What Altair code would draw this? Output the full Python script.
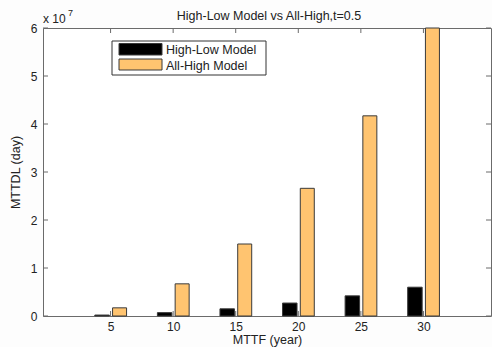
import altair as alt
import pandas as pd

# MTTF (years) and the resulting MTTDL (days) for the two models
mttf = [5, 10, 15, 20, 25, 30]
high_low = [0.02e7, 0.07e7, 0.15e7, 0.27e7, 0.42e7, 0.60e7]
all_high = [0.17e7, 0.67e7, 1.50e7, 2.66e7, 4.17e7, 6.00e7]

series = ["High-Low Model", "All-High Model"]
colors = ["#000000", "#FFC470"]

x_ticks = [5, 10, 15, 20, 25, 30]
y_ticks = [0, 1e7, 2e7, 3e7, 4e7, 5e7, 6e7]

title_text = "High-Low Model vs All-High,t=0.5"

W, H = 448, 288
FONT = "Liberation Sans"
FS = 12.5
INK = "#222222"
FRAME = "#6b6b6b"

bars = pd.DataFrame({"MTTF": mttf, "HL": high_low, "AH": all_high})
xt = pd.DataFrame({"v": x_ticks})
yt = pd.DataFrame({"v": y_ticks})

x_scale = alt.Scale(domain=[0, 35], nice=False, zero=False)
y_scale = alt.Scale(domain=[0, 6e7], nice=False)

# the same axis definitions go on every layer so the merged axes agree
x_axis = alt.Axis(
    values=x_ticks, ticks=False, domain=False, grid=False,
    labelFont=FONT, labelFontSize=12, labelFontWeight="normal",
    labelColor=INK, labelPadding=5,
    title="MTTF (year)", titleFont=FONT, titleFontSize=FS,
    titleFontWeight="normal", titleColor=INK, titlePadding=1,
)
y_axis = alt.Axis(
    values=y_ticks, ticks=False, domain=False, grid=False,
    labelExpr="format(datum.value / 1e7, 'd')",
    labelFont=FONT, labelFontSize=12, labelFontWeight="normal",
    labelColor=INK, labelPadding=6,
    title="MTTDL (day)", titleFont=FONT, titleFontSize=FS,
    titleFontWeight="normal", titleColor=INK, titlePadding=8,
)

base = alt.Chart(bars)

hl_bars = base.mark_bar(
    orient="vertical", size=14.5, xOffset=-8.5, fill=colors[0],
    stroke="#3a3a3a", strokeWidth=1,
).encode(
    x=alt.X("MTTF:Q", scale=x_scale, axis=x_axis),
    y=alt.Y("HL:Q", scale=y_scale, axis=y_axis),
)

ah_bars = base.mark_bar(
    orient="vertical", size=14, xOffset=9, fill=colors[1],
    stroke="#3a3a3a", strokeWidth=1,
).encode(
    x=alt.X("MTTF:Q", scale=x_scale, axis=x_axis),
    y=alt.Y("AH:Q", scale=y_scale, axis=y_axis),
)

# inward-pointing tick marks on all four sides of the box
tick_style = dict(color=FRAME, strokeWidth=1)
y_ticks_left = alt.Chart(yt).mark_rule(**tick_style).encode(
    y=alt.Y("v:Q", scale=y_scale, axis=y_axis), x=alt.value(0), x2=alt.value(5)
)
y_ticks_right = alt.Chart(yt).mark_rule(**tick_style).encode(
    y=alt.Y("v:Q", scale=y_scale, axis=y_axis), x=alt.value(W - 5), x2=alt.value(W)
)
x_ticks_bottom = alt.Chart(xt).mark_rule(**tick_style).encode(
    x=alt.X("v:Q", scale=x_scale, axis=x_axis), y=alt.value(H), y2=alt.value(H - 5)
)
x_ticks_top = alt.Chart(xt).mark_rule(**tick_style).encode(
    x=alt.X("v:Q", scale=x_scale, axis=x_axis), y=alt.value(0), y2=alt.value(5)
)

txt = dict(font=FONT, color=INK, fontWeight="normal", baseline="alphabetic")
one = pd.DataFrame({"k": [0]})

# chart title
title_mark = alt.Chart(one).mark_text(fontSize=FS, align="center", **txt).encode(
    x=alt.value(W / 2 + 2), y=alt.value(-8), text=alt.value(title_text)
)

# exponent note for the y axis
exp_base = alt.Chart(one).mark_text(fontSize=12, align="left", **txt).encode(
    x=alt.value(0), y=alt.value(-5), text=alt.value("x 10")
)
exp_pow = alt.Chart(one).mark_text(fontSize=9, align="left", **txt).encode(
    x=alt.value(25), y=alt.value(-12), text=alt.value("7")
)

# legend box
leg_box = alt.Chart(one).mark_rect(
    fill="white", stroke="#333333", strokeWidth=1
).encode(x=alt.value(69), x2=alt.value(223), y=alt.value(13), y2=alt.value(47))
leg_sw1 = alt.Chart(one).mark_rect(
    fill=colors[0], stroke="#3a3a3a", strokeWidth=1
).encode(x=alt.value(76), x2=alt.value(119), y=alt.value(15.5), y2=alt.value(27))
leg_sw2 = alt.Chart(one).mark_rect(
    fill=colors[1], stroke="#3a3a3a", strokeWidth=1
).encode(x=alt.value(76), x2=alt.value(119), y=alt.value(31), y2=alt.value(42))
leg_txt1 = alt.Chart(one).mark_text(fontSize=FS, align="left", **txt).encode(
    x=alt.value(123), y=alt.value(26), text=alt.value(series[0])
)
leg_txt2 = alt.Chart(one).mark_text(fontSize=FS, align="left", **txt).encode(
    x=alt.value(123), y=alt.value(41.5), text=alt.value(series[1])
)

chart = alt.layer(
    hl_bars, ah_bars,
    y_ticks_left, y_ticks_right, x_ticks_bottom, x_ticks_top,
    title_mark, exp_base, exp_pow,
    leg_box, leg_sw1, leg_sw2, leg_txt1, leg_txt2,
).properties(
    width=W, height=H,
    autosize=alt.AutoSizeParams(type="none"),
    padding={"left": 43, "top": 28, "right": 1, "bottom": 31},
    background="#fdfdfd",
).configure_view(
    stroke=FRAME, strokeWidth=1, fill="white"
)

chart.save("out.html", embed_options={"renderer": "svg", "actions": False})
